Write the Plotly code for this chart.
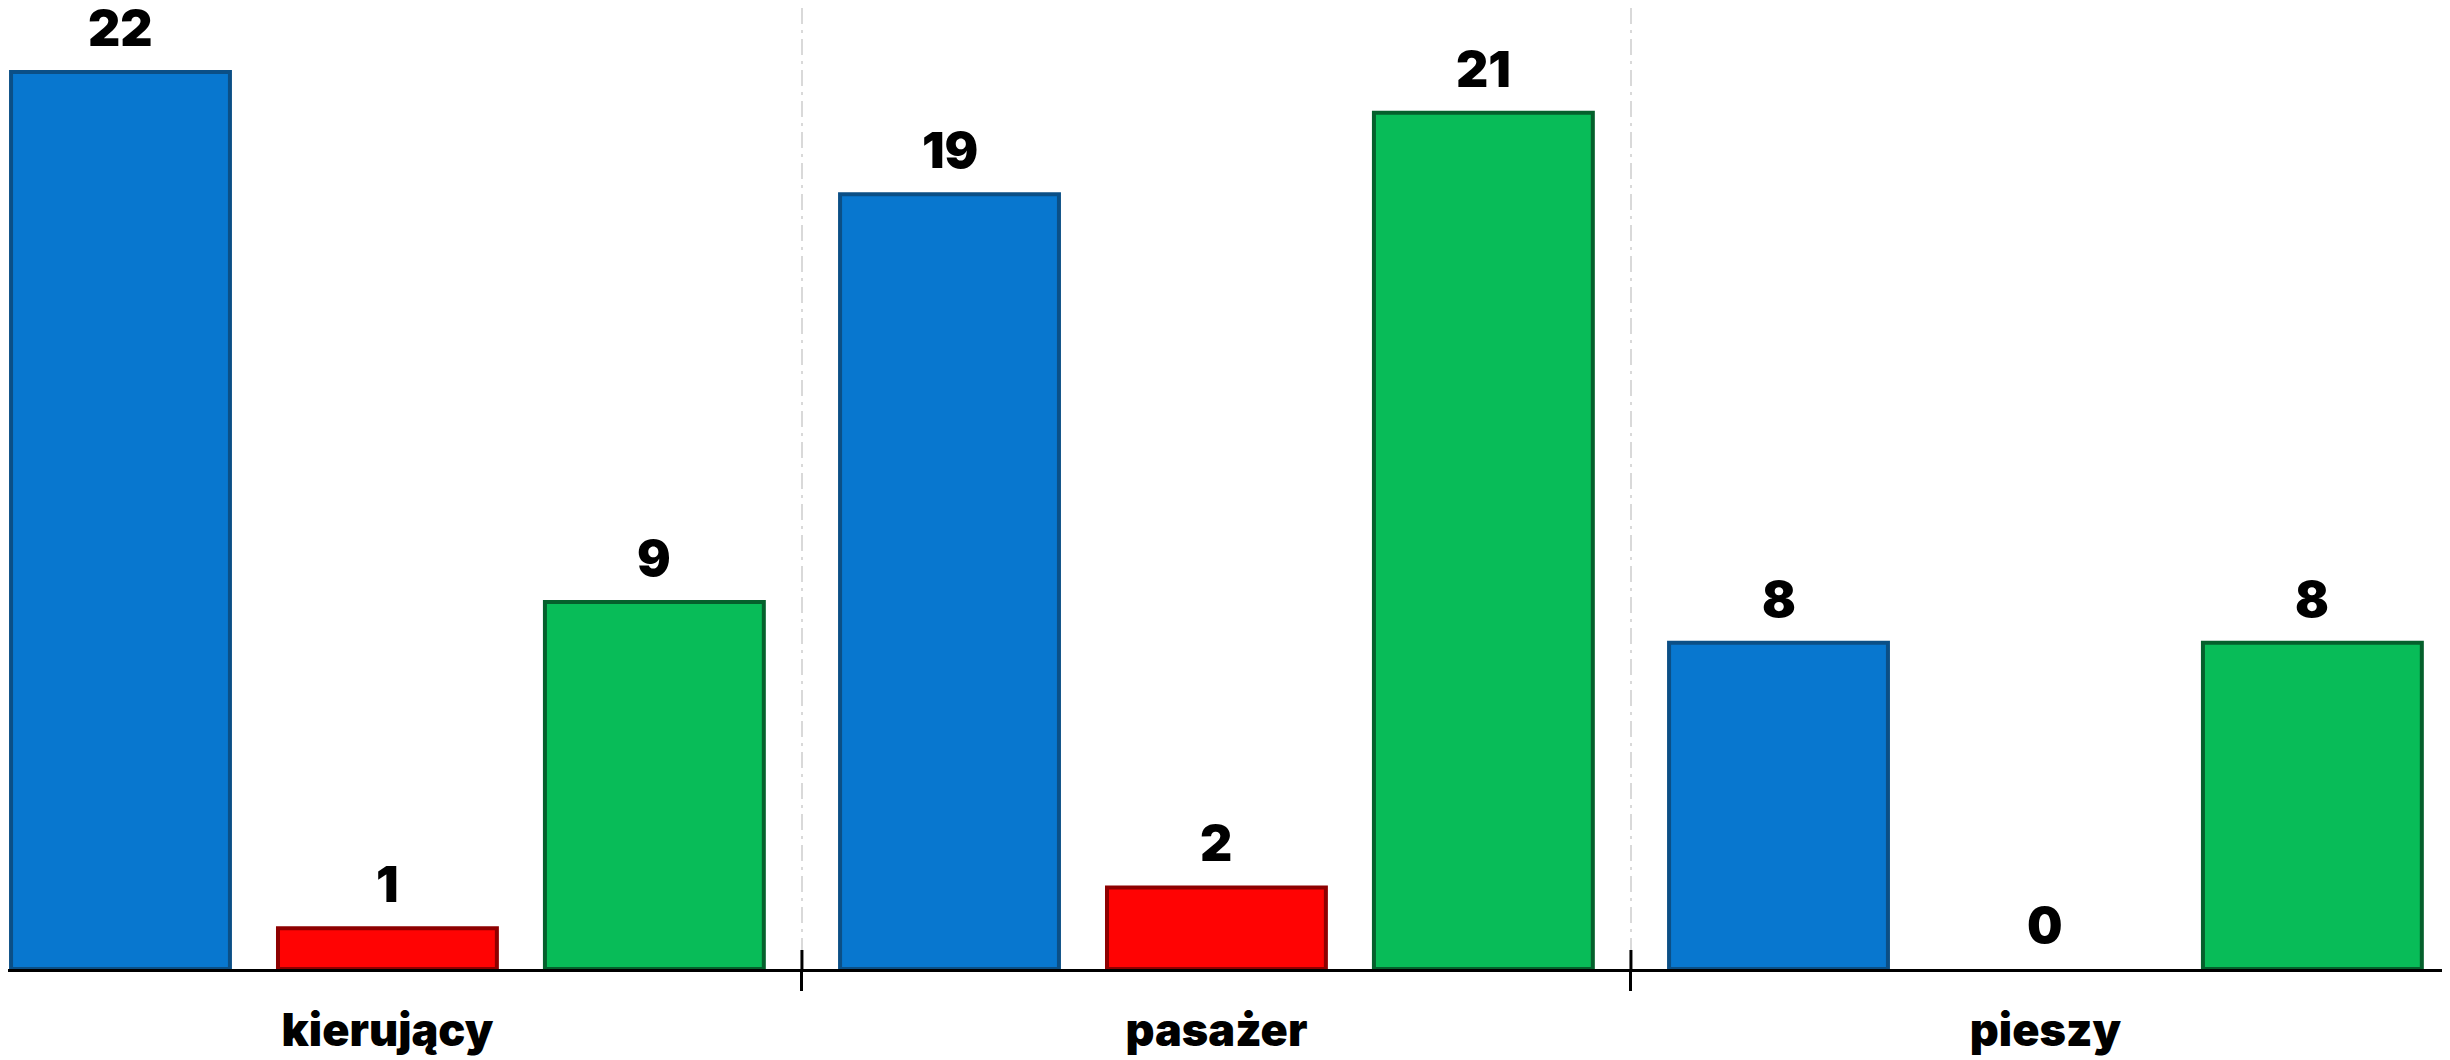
import plotly.graph_objects as go

categories = ["kierujący", "pasażer", "pieszy"]
series_blue = [22, 19, 8]
series_red = [1, 2, 0]
series_green = [9, 21, 8]

series = [
    ("Seria 1", series_blue, "#0877CF", "#0B4F86"),
    ("Seria 2", series_red, "#FF0303", "#8E0000"),
    ("Seria 3", series_green, "#08BC58", "#05602C"),
]

FONT = "Inter, Roboto, Lato, 'Liberation Sans', Arial, sans-serif"
BARGAP = 0.034
BARGROUPGAP = 0.18

fig = go.Figure()
for name, vals, fill, edge in series:
    fig.add_trace(go.Bar(
        x=categories, y=vals, name=name,
        marker=dict(color=fill, line=dict(color=edge, width=[4 if v > 0 else 0 for v in vals])),
        cliponaxis=False,
    ))

# value labels above bars, positioned at the group slot of each series
n = len(series)
slot = (1 - BARGAP) / n
annotations = []
for j, (name, vals, fill, edge) in enumerate(series):
    off = (j - (n - 1) / 2) * slot
    for i, v in enumerate(vals):
        annotations.append(dict(
            x=i + off, y=v, xref="x", yref="y", text=str(v), showarrow=False,
            yanchor="bottom", yshift=12,
            font=dict(family=FONT, size=50, color="black", weight=900),
        ))

boundaries = [i + 0.5 for i in range(len(categories) - 1)]
shapes = [dict(type="line", xref="x", yref="y", ysizemode="pixel", yanchor=0,
               x0=b, x1=b, y0=0, y1=19, line=dict(color="black", width=3))
          for b in boundaries]

fig.update_layout(
    width=2442, height=1052,
    margin=dict(l=0, r=0, t=0, b=91),
    paper_bgcolor="white", plot_bgcolor="white",
    barmode="group", bargap=BARGAP, bargroupgap=BARGROUPGAP,
    showlegend=False,
    shapes=shapes,
    annotations=annotations,
    xaxis=dict(
        type="category", range=[-0.4577, 2.488],
        tickson="boundaries", ticks="outside", ticklen=19, tickwidth=3, tickcolor="black",
        showline=True, linecolor="black", linewidth=3,
        showgrid=True, gridcolor="#D9D9D9", gridwidth=2, griddash="16px,6px,3px,6px",
        tickfont=dict(family=FONT, size=45, color="black", weight=900),
        ticklabelstandoff=20,
    ),
    yaxis=dict(range=[0, 23.57], visible=False, showgrid=False, zeroline=False),
)

fig.write_html("out.html")
